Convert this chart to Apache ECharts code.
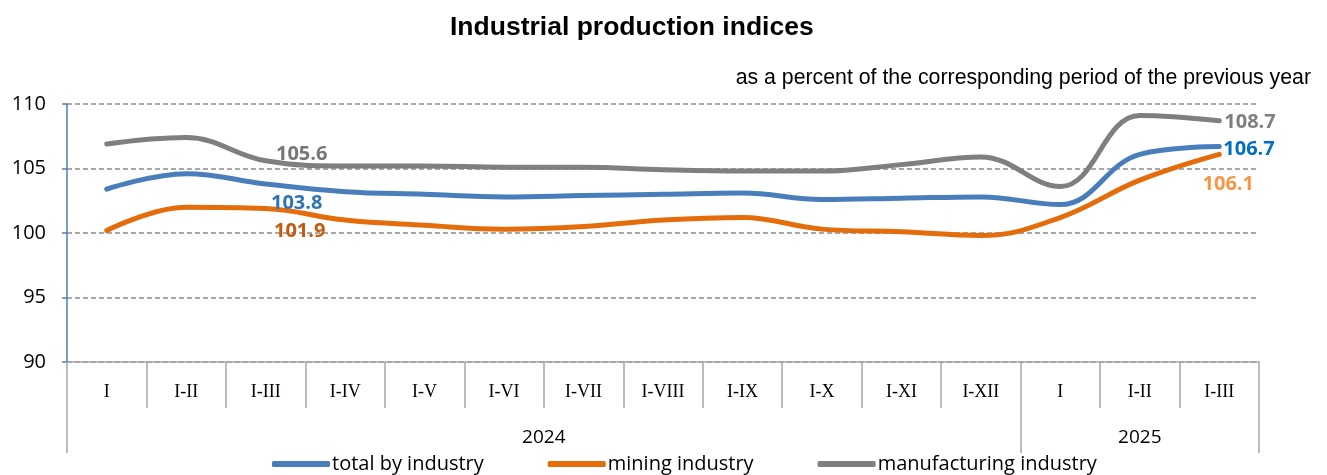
<!DOCTYPE html>
<html>
<head>
<meta charset="utf-8">
<script src="https://cdn.jsdelivr.net/npm/echarts@6/dist/echarts.min.js"></script>
<style>html,body{margin:0;padding:0;background:#fff}#c{width:1327px;height:475px}</style>
</head>
<body>
<div id="c"></div>
<script>
var categories = ['I','I-II','I-III','I-IV','I-V','I-VI','I-VII','I-VIII','I-IX','I-X','I-XI','I-XII','I','I-II','I-III'];
var years = ['2024','2025'];
var yearSpans = [12, 3];
var seriesNames = ['total by industry','mining industry','manufacturing industry'];
var totalIndustry = [103.4,104.6,103.8,103.2,103.0,102.8,102.9,103.0,103.1,102.6,102.7,102.8,102.2,106.1,106.7];
var miningIndustry = [100.2,102.0,101.9,101.0,100.6,100.3,100.5,101.0,101.2,100.3,100.1,99.8,101.2,104.1,106.1];
var manufacturingIndustry = [106.9,107.4,105.6,105.2,105.2,105.1,105.1,104.9,104.8,104.8,105.3,105.9,103.6,109.1,108.7];
var yTicks = [90,95,100,105,110];

var chart = echarts.init(document.getElementById('c'));
var sans = '"Open Sans", "Noto Sans", sans-serif';

var bounds = [0], centers = [];
yearSpans.forEach(function(s, i){ var b = bounds[bounds.length-1]; centers.push(b + s/2); bounds.push(b + s); });

var last = categories.length - 1;
// label styling per series / data index
var totalSpecs = {}; totalSpecs[2] = {position:'bottom', shift:[31,4], color:'#2e75b6'}; totalSpecs[last] = {position:'right', distance:4, shift:[0,3], color:'#0070c0'};
var miningSpecs = {}; miningSpecs[2] = {position:'bottom', shift:[34,8], color:'#c55a11'}; miningSpecs[last] = {position:'bottom', shift:[9,15], color:'#f79646'};
var manuSpecs = {}; manuSpecs[2] = {position:'top', shift:[36,9], color:'#767676'}; manuSpecs[last] = {position:'right', distance:4, shift:[1,2], color:'#7f7f7f'};

function labelled(values, specs){
  return values.map(function(v, i){
    if (specs[i]) {
      var s = specs[i];
      var l = {show: true, fontFamily: sans, fontWeight: 'bold', fontSize: 20, position: s.position, color: s.color};
      if (s.distance != null) l.distance = s.distance;
      return {value: v, label: l};
    }
    return v;
  });
}

function lineSeries(name, data, color, specs){
  return {name: name, type: 'line', data: data, smooth: 0.4, symbol: 'circle', symbolSize: 0, showSymbol: true, xAxisIndex: 0,
    label: {show: false, formatter: function(p){ return Number(p.value).toFixed(1); }},
    labelLayout: function(p){ var s = specs[p.dataIndex]; return s ? {dx: s.shift[0], dy: s.shift[1], hideOverlap: false} : {}; },
    lineStyle: {width: 5, color: color, cap: 'round'}, itemStyle: {color: color}};
}

chart.setOption({
  animation: false,
  title: [
    {text: 'Industrial production indices', left: 445, top: 9, textStyle: {fontFamily: '"Liberation Sans", Arial, sans-serif', fontWeight: 'bold', fontSize: 26.5, color: '#000'}},
    {text: 'as a percent of the corresponding period of the previous year', right: 11, top: 63, textStyle: {fontFamily: '"Liberation Sans", Arial, sans-serif', fontWeight: 'normal', fontSize: 21.3, color: '#000'}}
  ],
  grid: {left: 67, right: 68, top: 104, bottom: 113, containLabel: false},
  legend: {bottom: -4, left: 267, icon: 'roundRect', itemWidth: 58, itemHeight: 6, itemGap: 64,
    textStyle: {fontFamily: sans, fontSize: 20, color: '#000', padding: [0,0,0,-3]}, data: seriesNames},
  xAxis: [
    {type: 'category', data: categories, boundaryGap: true, position: 'bottom',
      axisLine: {show: true, lineStyle: {color: '#a6a6a6', width: 1.5}},
      axisTick: {show: true, interval: 0, length: 46, lineStyle: {color: '#a6a6a6', width: 1.5}},
      axisLabel: {interval: 0, margin: 21, fontFamily: '"Liberation Serif", "Times New Roman", serif', fontSize: 18, color: '#000'},
      splitLine: {show: false}},
    {type: 'value', min: 0, max: categories.length, position: 'bottom',
      axisLine: {show: false},
      axisTick: {show: true, customValues: bounds, length: 91, lineStyle: {color: '#a6a6a6', width: 1.5}},
      axisLabel: {show: true, customValues: centers, margin: 66, fontFamily: sans, fontSize: 19, color: '#000',
        formatter: function(v){ var i = centers.indexOf(v); return i >= 0 ? years[i] : ''; }},
      splitLine: {show: false}}
  ],
  yAxis: {type: 'value', min: yTicks[0], max: yTicks[yTicks.length-1], interval: 5,
    axisLine: {show: true, lineStyle: {color: '#4a7ebb', width: 1.5}},
    axisTick: {show: true, length: 5, lineStyle: {color: '#4a7ebb', width: 1.5}},
    axisLabel: {margin: 21, fontFamily: sans, fontSize: 20, color: '#000'},
    splitLine: {show: true, lineStyle: {color: '#8c8c8c', width: 1.5, type: [5,3]}}},
  series: [
    lineSeries(seriesNames[1], labelled(miningIndustry, miningSpecs), '#e46c0a', miningSpecs),
    lineSeries(seriesNames[0], labelled(totalIndustry, totalSpecs), '#4a7ebb', totalSpecs),
    lineSeries(seriesNames[2], labelled(manufacturingIndustry, manuSpecs), '#7f7f7f', manuSpecs)
  ]
});
</script>
</body>
</html>
